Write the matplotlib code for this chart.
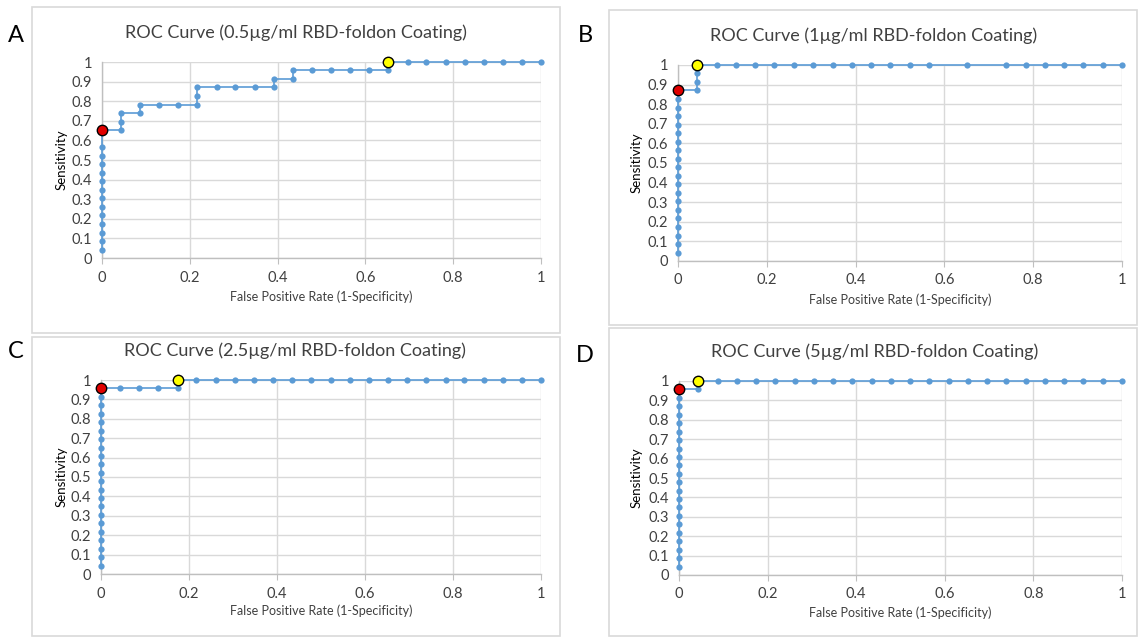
import matplotlib
matplotlib.use("Agg")
import matplotlib.pyplot as plt
from matplotlib.patches import Rectangle

plt.rcParams['font.family'] = ['Lato', 'DejaVu Sans']

# ---- data (FPR, sensitivity) ----
fpr_a = [0, 0, 0, 0, 0, 0, 0, 0, 0, 0, 0, 0, 0, 0,
         0.043, 0.043, 0.043, 0.087, 0.087, 0.130, 0.174, 0.217, 0.217, 0.217,
         0.261, 0.304, 0.348, 0.391, 0.391, 0.435, 0.435, 0.478, 0.522, 0.565,
         0.609, 0.652, 0.652, 0.696, 0.739, 0.783, 0.826, 0.870, 0.913, 0.957, 1.0]
sens_a = [0.043, 0.087, 0.130, 0.174, 0.217, 0.261, 0.304, 0.348, 0.391, 0.435,
          0.478, 0.522, 0.565, 0.652,
          0.652, 0.696, 0.739, 0.739, 0.783, 0.783, 0.783, 0.783, 0.826, 0.870,
          0.870, 0.870, 0.870, 0.870, 0.913, 0.913, 0.957, 0.957, 0.957, 0.957,
          0.957, 0.957, 1.0, 1.0, 1.0, 1.0, 1.0, 1.0, 1.0, 1.0, 1.0]

fpr_b = [0] * 20 + [0.043, 0.043, 0.043, 0.043,
                    0.087, 0.130, 0.174, 0.217, 0.261, 0.304, 0.348, 0.391, 0.435,
                    0.478, 0.522, 0.565, 0.652, 0.739, 0.783, 0.826, 0.870, 0.913,
                    0.957, 1.0]
sens_b = [0.043, 0.087, 0.130, 0.174, 0.217, 0.261, 0.304, 0.348, 0.391, 0.435,
          0.478, 0.522, 0.565, 0.609, 0.652, 0.696, 0.739, 0.783, 0.826, 0.870,
          0.870, 0.913, 0.957, 1.0] + [1.0] * 20

fpr_c = [0] * 22 + [0.043, 0.087, 0.130, 0.174, 0.174,
                    0.217, 0.261, 0.304, 0.348, 0.391, 0.435, 0.478, 0.522, 0.565,
                    0.609, 0.652, 0.696, 0.739, 0.783, 0.826, 0.870, 0.913, 0.957,
                    1.0]
sens_c = [0.043, 0.087, 0.130, 0.174, 0.217, 0.261, 0.304, 0.348, 0.391, 0.435,
          0.478, 0.522, 0.565, 0.609, 0.652, 0.696, 0.739, 0.783, 0.826, 0.870,
          0.913, 0.957, 0.957, 0.957, 0.957, 0.957] + [1.0] * 20

fpr_d = [0] * 22 + [0.043, 0.043,
                    0.087, 0.130, 0.174, 0.217, 0.261, 0.304, 0.348, 0.391, 0.435,
                    0.478, 0.522, 0.565, 0.609, 0.652, 0.696, 0.739, 0.783, 0.826,
                    0.870, 0.913, 0.957, 1.0]
sens_d = [0.043, 0.087, 0.130, 0.174, 0.217, 0.261, 0.304, 0.348, 0.391, 0.435,
          0.478, 0.522, 0.565, 0.609, 0.652, 0.696, 0.739, 0.783, 0.826, 0.870,
          0.913, 0.957, 0.957] + [1.0] * 23

# highlighted cut-offs: (red point, yellow point)
red_pts = [(0, 0.652), (0, 0.870), (0, 0.957), (0, 0.957)]
yellow_pts = [(0.652, 1.0), (0.043, 1.0), (0.174, 1.0), (0.043, 1.0)]

titles = ["ROC Curve (0.5µg/ml RBD-foldon Coating)",
          "ROC Curve (1µg/ml RBD-foldon Coating)",
          "ROC Curve (2.5µg/ml RBD-foldon Coating)",
          "ROC Curve (5µg/ml RBD-foldon Coating)"]
letters = ["A", "B", "C", "D"]
yticks = [0, 0.1, 0.2, 0.3, 0.4, 0.5, 0.6, 0.7, 0.8, 0.9, 1]
ytick_labels = ["0", "0.1", "0.2", "0.3", "0.4", "0.5", "0.6", "0.7", "0.8", "0.9", "1"]
xticks = [0, 0.2, 0.4, 0.6, 0.8, 1]
xtick_labels = ["0", "0.2", "0.4", "0.6", "0.8", "1"]

W, H = 1138, 637
fig = plt.figure(figsize=(W / 100, H / 100), dpi=100)
fig.patch.set_facecolor("white")

BLUE = "#5B9BD5"
GRID = "#d9d9d9"
TXT = "#404040"

# pixel layout: axes (x0, x1, y_top, y_bottom), box, title centre, letter pos, ylabel x, xlabel y
layout = [
    dict(ax=(102, 541, 62, 258), box=(32, 7, 560, 333), tt=(296, 33), let=(16, 35), ylx=62, xly=297),
    dict(ax=(678, 1122, 65, 261), box=(609, 10, 1137, 325), tt=(874, 36), let=(585, 35), ylx=637, xly=300),
    dict(ax=(101, 541, 380, 574), box=(32, 337, 560, 636), tt=(295, 351), let=(16, 352), ylx=62, xly=611),
    dict(ax=(679, 1122, 381, 575), box=(609, 328, 1137, 636), tt=(875, 352), let=(585, 355), ylx=637, xly=613),
]

series = [(fpr_a, sens_a), (fpr_b, sens_b), (fpr_c, sens_c), (fpr_d, sens_d)]

for i, lay in enumerate(layout):
    bx0, by0, bx1, by1 = lay["box"]
    fig.patches.append(Rectangle((bx0 / W, 1 - by1 / H), (bx1 - bx0) / W, (by1 - by0) / H,
                                 transform=fig.transFigure, fill=False,
                                 edgecolor=GRID, linewidth=1.2))
    x0, x1, yt, yb = lay["ax"]
    ax = fig.add_axes([x0 / W, 1 - yb / H, (x1 - x0) / W, (yb - yt) / H])
    ax.set_xlim(0, 1)
    ax.set_ylim(0, 1)
    ax.set_xticks(xticks)
    ax.set_xticklabels(xtick_labels)
    ax.set_yticks(yticks)
    ax.set_yticklabels(ytick_labels)
    ax.grid(True, color=GRID, linewidth=1.0)
    ax.set_axisbelow(True)
    for s in ["top", "right"]:
        ax.spines[s].set_visible(False)
    for s in ["left", "bottom"]:
        ax.spines[s].set_color("#bfbfbf")
        ax.spines[s].set_linewidth(1.0)
    ax.tick_params(axis="x", length=4, color="#bfbfbf", labelsize=10.5, labelcolor=TXT, pad=5)
    ax.tick_params(axis="y", length=0, labelsize=10.5, labelcolor=TXT, pad=7)

    fx, sy = series[i]
    ax.plot(fx, sy, color=BLUE, linewidth=1.2, marker="o", markersize=4.5,
            markeredgewidth=0, clip_on=False, zorder=3)
    ax.plot(*red_pts[i], marker="o", markersize=7.5, markerfacecolor="#e00000",
            markeredgecolor="black", markeredgewidth=1.0, clip_on=False, zorder=4)
    ax.plot(*yellow_pts[i], marker="o", markersize=7.5, markerfacecolor="#ffff00",
            markeredgecolor="black", markeredgewidth=1.0, clip_on=False, zorder=4)

    fig.text(lay["tt"][0] / W, 1 - lay["tt"][1] / H, titles[i], ha="center", va="center",
             fontsize=13, color=TXT)
    fig.text(lay["let"][0] / W, 1 - lay["let"][1] / H, letters[i], ha="center", va="center",
             fontsize=17, color="black")
    fig.text(lay["ylx"] / W, 1 - (yt + yb) / 2 / H, "Sensitivity", rotation=90,
             ha="center", va="center", fontsize=9.5, color="black")
    fig.text((x0 + x1) / 2 / W, 1 - lay["xly"] / H, "False Positive Rate (1-Specificity)",
             ha="center", va="center", fontsize=9, color=TXT)

fig.savefig("out.png", dpi=100)
